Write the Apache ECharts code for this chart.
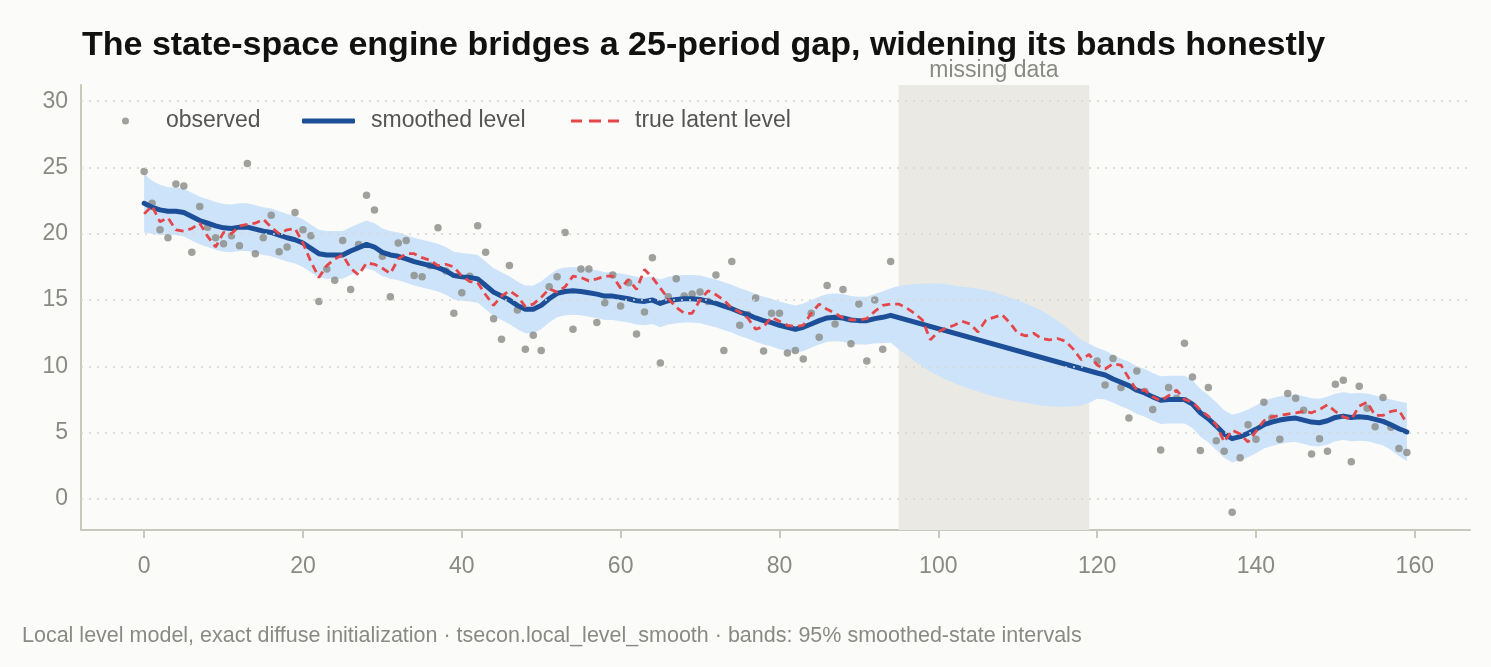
<!DOCTYPE html>
<html>
<head>
<meta charset="utf-8">
<script src="https://cdn.jsdelivr.net/npm/echarts@6/dist/echarts.min.js"></script>
<style>
  html, body { margin: 0; padding: 0; background: #fbfbf9; }
  #chart { width: 1491px; height: 667px; }
</style>
</head>
<body>
<div id="chart"></div>
<script>
// observed series, null where the 25-period gap is (95..119)
var observed = [
  24.7, 22.3, 20.3, 19.7, 23.75, 23.6, 18.6, 22.05, 20.5, 19.7,
  19.25, 19.85, 19.1, 25.3, 18.5, 19.7, 21.4, 18.65, 19.0, 21.6,
  20.3, 19.85, 14.9, 17.35, 16.5, 19.5, 15.8, 19.2, 22.9, 21.8,
  18.3, 15.25, 19.3, 19.5, 16.85, 16.75, 17.6, 20.45, 17.2, 14.0,
  15.55, 16.8, 20.6, 18.6, 13.6, 12.05, 17.6, 14.25, 11.3, 12.35,
  11.2, 16.0, 16.75, 20.1, 12.8, 17.35, 17.35, 13.3, 14.8, 16.9,
  14.55, 16.3, 12.45, 14.1, 18.2, 10.25, 15.25, 16.6, 15.3, 15.45,
  15.6, 14.9, 16.9, 11.2, 17.9, 13.1, 13.9, 15.15, 11.15, 14.0,
  14.0, 11.0, 11.2, 10.55, 14.0, 12.2, 16.1, 13.2, 15.8, 11.7,
  14.7, 10.4, 15.0, 11.3, 17.9,
  null, null, null, null, null, null, null, null, null, null,
  null, null, null, null, null, null, null, null, null, null,
  null, null, null, null, null,
  10.4, 8.6, 10.6, 8.4, 6.1, 9.65, 8.1, 6.75, 3.7, 8.4,
  7.6, 11.75, 9.2, 3.65, 8.4, 4.4, 3.6, -1.0, 3.1, 5.6,
  4.5, 7.3, 6.1, 4.5, 7.95, 7.6, 6.7, 3.4, 4.55, 3.6,
  8.65, 8.95, 2.8, 8.5, 6.85, 5.45, 7.65, 5.4, 3.8, 3.5
];

var smoothed = [
  22.3, 22.0, 21.8, 21.7, 21.7, 21.6, 21.3, 21.0, 20.8, 20.6,
  20.45, 20.4, 20.5, 20.5, 20.35, 20.2, 20.1, 19.9, 19.7, 19.55,
  19.3, 18.9, 18.5, 18.4, 18.4, 18.4, 18.7, 18.95, 19.2, 19.0,
  18.6, 18.4, 18.3, 18.1, 17.9, 17.75, 17.6, 17.45, 17.2, 16.85,
  16.75, 16.7, 16.6, 16.1, 15.6, 15.3, 15.0, 14.6, 14.3, 14.3,
  14.6, 15.1, 15.5, 15.65, 15.7, 15.65, 15.55, 15.45, 15.3, 15.3,
  15.2, 15.1, 14.95, 14.9, 15.0, 14.75, 14.95, 15.05, 15.1, 15.1,
  15.05, 14.9, 14.75, 14.55, 14.35, 14.1, 13.9, 13.65, 13.45, 13.3,
  13.1, 12.95, 12.8, 12.95, 13.2, 13.45, 13.65, 13.7, 13.65, 13.5,
  13.45, 13.45, 13.6, 13.7, 13.85,
  null, null, null, null, null, null, null, null, null, null,
  null, null, null, null, null, null, null, null, null, null,
  null, null, null, null, null,
  9.5, 9.35, 9.05, 8.8, 8.55, 8.2, 8.0, 7.7, 7.45, 7.5,
  7.5, 7.5, 7.15, 6.5, 6.05, 5.5, 4.9, 4.55, 4.7, 4.95,
  5.25, 5.6, 5.8, 5.95, 6.05, 6.1, 5.95, 5.8, 5.75, 5.9,
  6.15, 6.25, 6.15, 6.2, 6.15, 6.0, 5.85, 5.6, 5.3, 5.05
];

var latent = [
  21.5, 22.1, 20.9, 21.2, 20.3, 20.2, 20.4, 20.8, 19.8, 19.0,
  20.1, 20.0, 20.6, 20.7, 20.8, 21.1, 20.5, 20.0, 20.3, 20.4,
  19.3, 17.9, 16.7, 17.6, 18.1, 18.4, 17.4, 16.9, 17.8, 17.7,
  17.4, 17.0, 18.1, 18.5, 18.5, 18.2, 18.0, 17.6, 17.7, 17.5,
  16.8, 16.4, 16.3, 15.4, 14.6, 15.3, 15.7, 15.3, 14.5, 14.7,
  15.2, 15.85, 15.6, 16.0, 16.8, 16.7, 16.45, 16.6, 16.8, 16.8,
  15.9, 16.55, 15.8, 17.3, 16.7, 15.9, 15.1, 14.45, 14.0, 14.0,
  15.0, 15.7, 15.4, 15.0, 14.4, 14.1, 13.65, 12.8, 13.0, 13.7,
  13.4, 13.1, 13.0, 13.1, 14.0, 14.7, 14.3, 14.0, 13.65, 13.5,
  13.5, 13.6, 14.15, 14.6, 14.7, 14.7, 14.4, 14.0, 13.5, 12.0,
  12.6, 12.9, 13.1, 13.4, 13.2, 12.6, 13.5, 13.7, 13.9, 13.3,
  12.5, 12.3, 12.5, 12.1, 12.0, 12.1, 11.9, 11.3, 10.5, 10.9,
  10.1, 9.8, 10.2, 10.1, 9.1, 8.2, 8.2, 7.7, 7.4, 7.8,
  8.2, 7.5, 7.3, 6.7, 6.25, 5.6, 4.3, 5.2, 4.9, 4.3,
  5.1, 5.9, 6.2, 6.3, 6.4, 6.5, 6.6, 6.5, 6.75, 7.1,
  6.6, 6.2, 6.0, 7.0, 7.3, 6.3, 6.3, 6.6, 6.7, 5.7
];

// 95% smoothed-state band
var bandLo = [
  20.1, 20.0, 19.9, 19.9, 19.9, 19.8, 19.5, 19.2, 19.0, 18.8,
  18.65, 18.6, 18.7, 18.7, 18.55, 18.4, 18.3, 18.1, 17.9, 17.75,
  17.5, 17.1, 16.7, 16.6, 16.6, 16.6, 16.9, 17.15, 17.4, 17.2,
  16.8, 16.6, 16.5, 16.3, 16.1, 15.95, 15.8, 15.65, 15.4, 15.05,
  14.95, 14.9, 14.8, 14.3, 13.8, 13.5, 13.2, 12.8, 12.5, 12.5,
  12.8, 13.3, 13.7, 13.85, 13.9, 13.85, 13.75, 13.65, 13.5, 13.5,
  13.4, 13.3, 13.15, 13.1, 13.2, 12.95, 13.15, 13.25, 13.3, 13.3,
  13.25, 13.1, 12.95, 12.75, 12.55, 12.3, 12.1, 11.85, 11.65, 11.5,
  11.3, 11.15, 11.0, 11.15, 11.4, 11.65, 11.85, 11.9, 11.85, 11.7,
  11.65, 11.65, 11.75, 11.75, 11.8, 11.3, 10.85, 10.4, 10.0, 9.6,
  9.3, 9.0, 8.75, 8.5, 8.3, 8.1, 7.9, 7.75, 7.6, 7.45,
  7.35, 7.25, 7.15, 7.05, 7.0, 6.95, 6.95, 7.0, 7.05, 7.25,
  7.55, 7.5, 7.25, 7.0, 6.75, 6.4, 6.2, 5.9, 5.65, 5.7,
  5.7, 5.7, 5.35, 4.7, 4.25, 3.7, 3.1, 2.75, 2.9, 3.15,
  3.45, 3.8, 4.0, 4.15, 4.25, 4.3, 4.15, 4.0, 3.95, 4.1,
  4.35, 4.45, 4.35, 4.4, 4.35, 4.2, 4.05, 3.7, 3.25, 2.85
];
var bandHi = [
  24.5, 24.0, 23.7, 23.5, 23.5, 23.4, 23.1, 22.8, 22.6, 22.4,
  22.25, 22.2, 22.3, 22.3, 22.15, 22.0, 21.9, 21.7, 21.5, 21.35,
  21.1, 20.7, 20.3, 20.2, 20.2, 20.2, 20.5, 20.75, 21.0, 20.8,
  20.4, 20.2, 20.1, 19.9, 19.7, 19.55, 19.4, 19.25, 19.0, 18.65,
  18.55, 18.5, 18.4, 17.9, 17.4, 17.1, 16.8, 16.4, 16.1, 16.1,
  16.4, 16.9, 17.3, 17.45, 17.5, 17.45, 17.35, 17.25, 17.1, 17.1,
  17.0, 16.9, 16.75, 16.7, 16.8, 16.55, 16.75, 16.85, 16.9, 16.9,
  16.85, 16.7, 16.55, 16.35, 16.15, 15.9, 15.7, 15.45, 15.25, 15.1,
  14.9, 14.75, 14.6, 14.75, 15.0, 15.25, 15.45, 15.5, 15.45, 15.3,
  15.25, 15.25, 15.45, 15.65, 15.9, 16.05, 16.15, 16.2, 16.25, 16.25,
  16.25, 16.2, 16.1, 16.0, 15.95, 15.85, 15.75, 15.6, 15.4, 15.2,
  15.0, 14.75, 14.5, 14.2, 13.85, 13.45, 13.0, 12.5, 12.0, 11.7,
  11.4, 11.2, 10.85, 10.6, 10.35, 10.0, 9.8, 9.5, 9.25, 9.3,
  9.3, 9.3, 8.95, 8.3, 7.85, 7.3, 6.7, 6.35, 6.5, 6.75,
  7.05, 7.4, 7.6, 7.75, 7.85, 7.9, 7.75, 7.6, 7.55, 7.7,
  7.95, 8.05, 7.95, 8.0, 7.95, 7.8, 7.65, 7.5, 7.35, 7.25
];

var xTicks = [0, 20, 40, 60, 80, 100, 120, 140, 160];
var yTicks = [0, 5, 10, 15, 20, 25, 30];
var gapStart = 95, gapEnd = 119;

var FONT = 'Liberation Sans, Arial, Helvetica, sans-serif';
var GREY = '#8a8a85';
var AXIS = '#c8c8bc';
var BLUE = '#1c4f98';
var RED = '#e5464a';

function pairs(arr) {
  return arr.map(function (v, i) { return [i, v]; });
}

var chart = echarts.init(document.getElementById('chart'));

function legendAt(item, left, width, height, gap) {
  return {
    data: [item],
    left: left,
    top: 108,
    padding: 0,
    itemWidth: width,
    itemHeight: height,
    selectedMode: false,
    textStyle: { fontFamily: FONT, fontSize: 23, color: '#555', lineHeight: 26, padding: [0, 0, 0, gap] }
  };
}

// band polygon: upper edge left to right, lower edge back
function renderBand(params, api) {
  var pts = [];
  for (var i = 0; i < bandHi.length; i++) pts.push(api.coord([i, bandHi[i]]));
  for (var j = bandLo.length - 1; j >= 0; j--) pts.push(api.coord([j, bandLo[j]]));
  return {
    type: 'polygon',
    shape: { points: pts },
    style: { fill: '#cde3f9' }
  };
}

var option = {
  backgroundColor: '#fbfbf9',
  animation: false,
  textStyle: { fontFamily: FONT },
  title: [{
    text: 'The state-space engine bridges a 25-period gap, widening its bands honestly',
    left: 82,
    top: 29,
    padding: 0,
    textStyle: { fontFamily: FONT, fontSize: 34, fontWeight: 'bold', color: '#111' }
  }, {
    text: 'Local level model, exact diffuse initialization · tsecon.local_level_smooth · bands: 95% smoothed-state intervals',
    left: 22,
    top: 625,
    padding: 0,
    textStyle: { fontFamily: FONT, fontSize: 21.5, fontWeight: 'normal', color: GREY }
  }],
  legend: [
    legendAt({ name: 'observed', icon: 'circle' }, 122, 7, 7, 32),
    legendAt({ name: 'smoothed level', icon: 'roundRect' }, 302, 53, 5, 11),
    legendAt({ name: 'true latent level', icon: 'path://M0,0h11v3H0z M18,0h12v3H18z M37,0h11v3H37z' }, 571, 48, 3, 11)
  ],
  grid: { left: 81, right: 21, top: 85, bottom: 137 },
  xAxis: {
    type: 'value',
    min: -7.95,
    max: 166.95,
    axisLine: { show: true, onZero: false, lineStyle: { color: AXIS, width: 2 } },
    axisTick: { show: true, length: 8, customValues: xTicks, lineStyle: { color: AXIS, width: 2 } },
    axisLabel: { customValues: xTicks, margin: 25, fontSize: 23, color: GREY, fontFamily: FONT },
    splitLine: { show: false }
  },
  yAxis: {
    type: 'value',
    min: -2.34,
    max: 31.22,
    axisLine: { show: true, onZero: false, lineStyle: { color: AXIS, width: 2 } },
    axisTick: { show: false, customValues: yTicks },
    axisLabel: { customValues: yTicks, margin: 13, fontSize: 23, color: GREY, fontFamily: FONT },
    splitLine: { show: false }
  },
  series: [
    {
      name: 'gap',
      type: 'line',
      data: [],
      z: 0,
      markArea: {
        silent: true,
        itemStyle: { color: '#eae9e4' },
        label: { show: true, position: 'top', distance: 3, color: GREY, fontSize: 23, fontFamily: FONT },
        data: [[{ xAxis: gapStart, name: 'missing data' }, { xAxis: gapEnd }]]
      }
    },
    {
      name: 'grid',
      type: 'line',
      data: [],
      z: 1,
      markLine: {
        silent: true,
        symbol: ['none', 'none'],
        label: { show: false },
        lineStyle: { type: [2, 6], color: '#d6d6cf', width: 1.5 },
        data: yTicks.map(function (v) { return { yAxis: v }; })
      }
    },
    {
      name: 'band',
      type: 'custom',
      renderItem: renderBand,
      data: [[0, bandLo[0]]],
      silent: true,
      z: 2
    },
    {
      name: 'observed',
      type: 'scatter',
      data: pairs(observed),
      symbol: 'circle',
      symbolSize: 7.5,
      itemStyle: { color: '#898984' },
      z: 3
    },
    {
      name: 'smoothed level',
      type: 'line',
      data: pairs(smoothed),
      connectNulls: true,
      symbol: 'none',
      lineStyle: { color: BLUE, width: 5, cap: 'round', join: 'round' },
      itemStyle: { color: BLUE },
      z: 4
    },
    {
      name: 'true latent level',
      type: 'line',
      data: pairs(latent),
      symbol: 'none',
      lineStyle: { color: RED, width: 2.8, type: [8, 5] },
      itemStyle: { color: RED },
      z: 5
    }
  ]
};

chart.setOption(option);
</script>
</body>
</html>
